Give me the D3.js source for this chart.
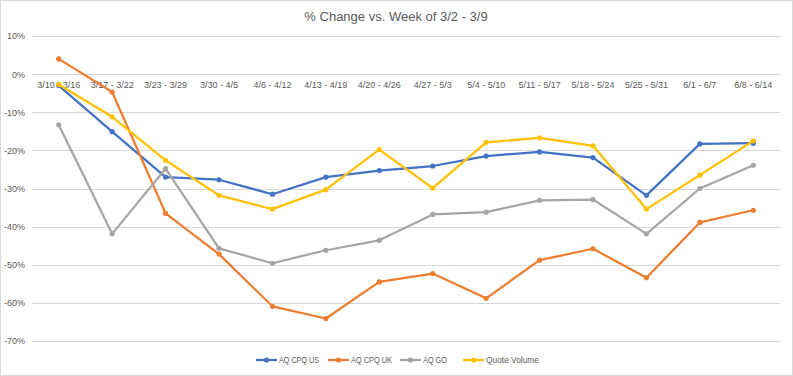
<!DOCTYPE html>
<html><head><meta charset="utf-8">
<script src="https://cdn.jsdelivr.net/npm/d3@7/dist/d3.min.js"></script>
<style>
body{margin:0;background:#fff;}
text{font-family:"Liberation Sans","Noto Sans",sans-serif;fill:#595959;}
</style></head>
<body><svg id="c" width="793" height="376"></svg>
<script>
const categories = ["3/10 - 3/16","3/17 - 3/22","3/23 - 3/29","3/30 - 4/5","4/6 - 4/12","4/13 - 4/19","4/20 - 4/26","4/27 - 5/3","5/4 - 5/10","5/11 - 5/17","5/18 - 5/24","5/25 - 5/31","6/1 - 6/7","6/8 - 6/14"];
const aqCpqUs = [-3.0,-15.1,-27.0,-27.7,-31.5,-27.0,-25.3,-24.1,-21.5,-20.4,-21.9,-31.8,-18.3,-18.1];
const aqCpqUk = [4.0,-4.7,-36.5,-47.2,-60.9,-64.1,-54.5,-52.3,-58.8,-48.8,-45.8,-53.4,-38.9,-35.7];
const aqGo = [-13.3,-41.9,-24.8,-45.7,-49.6,-46.2,-43.6,-36.8,-36.2,-33.1,-32.9,-41.9,-30.0,-23.9];
const quoteVolume = [-2.7,-11.2,-22.6,-31.8,-35.4,-30.3,-19.8,-29.9,-17.9,-16.7,-18.8,-35.4,-26.5,-17.5];
const yTicks = [10,0,-10,-20,-30,-40,-50,-60,-70];
const seriesNames = ["AQ CPQ US","AQ CPQ UK","AQ GO","Quote Volume"];
const seriesColors = ["#4472C4","#ED7D31","#A5A5A5","#FFC000"];
const seriesValues = [aqCpqUs, aqCpqUk, aqGo, quoteVolume];
const title = "% Change vs. Week of 3/2 - 3/9";

const svg = d3.select("#c");
svg.append("rect").attr("x",0.5).attr("y",0.5).attr("width",792).attr("height",375)
  .attr("fill","#fff").attr("stroke","#d9d9d9");

const x = d3.scaleBand().domain(categories).range([32,780]);
const y = d3.scaleLinear().domain([-70,10]).range([341,36]);

svg.append("g").selectAll("line").data(yTicks).join("line")
  .attr("x1",32).attr("x2",780)
  .attr("y1",d=>Math.round(y(d))+0.5).attr("y2",d=>Math.round(y(d))+0.5)
  .attr("stroke","#d9d9d9").attr("stroke-width",1);

const yAxis = d3.axisLeft(y).tickValues(yTicks).tickFormat(d=>d+"%").tickSize(0).tickPadding(0);
const ya = svg.append("g").attr("transform","translate(25,0)").call(yAxis);
ya.select(".domain").remove();
ya.selectAll("text").attr("font-size","9px").style("font-family",'"Liberation Sans",sans-serif').attr("fill","#595959");

const xAxis = d3.axisBottom(x).tickSize(0).tickPadding(0);
const xa = svg.append("g").attr("transform",`translate(0,${y(0)+7})`).call(xAxis);
xa.select(".domain").remove();
xa.selectAll("text").attr("font-size","9px").style("font-family",'"Liberation Sans",sans-serif').attr("fill","#595959");

const line = d3.line().x((d,i)=>x(categories[i])+x.bandwidth()/2).y(d=>y(d));
seriesValues.forEach((vals,si)=>{
  const g = svg.append("g");
  g.append("path").datum(vals).attr("d",line).attr("fill","none")
    .attr("stroke",seriesColors[si]).attr("stroke-width",2.25).attr("stroke-linejoin","round");
  g.selectAll("circle").data(vals).join("circle")
    .attr("cx",(d,i)=>x(categories[i])+x.bandwidth()/2).attr("cy",d=>y(d))
    .attr("r",2.6).attr("fill",seriesColors[si]);
});

svg.append("text").attr("x",396).attr("y",21).attr("text-anchor","middle")
  .attr("font-size","13px").text(title);

const legendX = [256,328,400,463];
const legendW = [40,41,24,53];
const lg = svg.append("g");
seriesNames.forEach((n,i)=>{
  const gx = legendX[i];
  lg.append("line").attr("x1",gx).attr("x2",gx+21).attr("y1",360).attr("y2",360)
    .attr("stroke",seriesColors[i]).attr("stroke-width",2.25);
  lg.append("circle").attr("cx",gx+10.5).attr("cy",360).attr("r",2.6).attr("fill",seriesColors[i]);
  lg.append("text").attr("x",gx+23).attr("y",363.2).attr("font-size","9px")
    .attr("textLength",legendW[i]).attr("lengthAdjust","spacingAndGlyphs").text(n);
});
</script></body></html>
